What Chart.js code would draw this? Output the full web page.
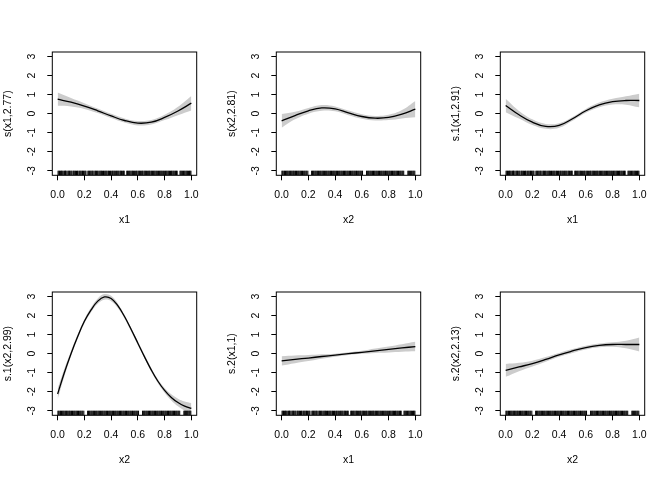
<!DOCTYPE html>
<html>
<head>
<meta charset="utf-8">
<script src="https://cdn.jsdelivr.net/npm/chart.js@4.4.1/dist/chart.umd.min.js"></script>
<style>
  body { margin: 0; background: #fff; }
  .panel { position: absolute; width: 224px; height: 240px; }
</style>
</head>
<body>
<script>
// grids the smooths were read at
const xGrid = [0, 0.1, 0.2, 0.3, 0.4, 0.5, 0.6, 0.7, 0.8, 0.9, 1.0];
const xFine = [0, 0.05, 0.1, 0.15, 0.2, 0.25, 0.3, 0.35, 0.4, 0.45, 0.5,
               0.55, 0.6, 0.65, 0.7, 0.75, 0.8, 0.85, 0.9, 0.95, 1.0];

// fitted smooths and half widths of the grey bands
const fit1 = [0.76, 0.6, 0.4, 0.15, -0.12, -0.36, -0.5, -0.45, -0.2, 0.14, 0.55];
const se1  = [0.35, 0.22, 0.15, 0.12, 0.11, 0.11, 0.12, 0.12, 0.14, 0.22, 0.38];
const fit2 = [-0.38, -0.1, 0.15, 0.3, 0.25, 0.04, -0.15, -0.24, -0.2, -0.03, 0.24];
const se2  = [0.36, 0.2, 0.15, 0.15, 0.13, 0.12, 0.12, 0.12, 0.14, 0.22, 0.43];
const fit3 = [0.43, -0.06, -0.45, -0.67, -0.62, -0.27, 0.15, 0.46, 0.63, 0.69, 0.69];
const se3  = [0.35, 0.2, 0.15, 0.13, 0.12, 0.1, 0.1, 0.12, 0.15, 0.22, 0.36];
const fit4 = [-2.12, -1.0, 0.0, 0.9, 1.7, 2.3, 2.76, 2.98, 2.9, 2.52, 1.95,
              1.27, 0.55, -0.17, -0.85, -1.45, -1.93, -2.3, -2.57, -2.76, -2.88];
const se4  = [0.28, 0.2, 0.14, 0.12, 0.11, 0.12, 0.14, 0.15, 0.14, 0.12, 0.1,
              0.1, 0.1, 0.1, 0.1, 0.11, 0.13, 0.16, 0.2, 0.24, 0.28];
const fit5 = [-0.38, -0.3, -0.23, -0.15, -0.08, 0.0, 0.07, 0.15, 0.22, 0.3, 0.37];
const se5  = [0.24, 0.2, 0.155, 0.115, 0.08, 0.07, 0.08, 0.115, 0.16, 0.2, 0.25];
const fit6 = [-0.88, -0.7, -0.52, -0.3, -0.06, 0.14, 0.32, 0.43, 0.48, 0.48, 0.48];
const se6  = [0.34, 0.22, 0.15, 0.12, 0.1, 0.1, 0.1, 0.1, 0.12, 0.2, 0.37];

// rug positions of the covariates
const rugX1 = [0.003, 0.009, 0.014, 0.022, 0.027, 0.031, 0.038, 0.046, 0.052, 0.058, 0.061, 0.069,
  0.077, 0.083, 0.088, 0.094, 0.101, 0.107, 0.116, 0.121, 0.128, 0.133, 0.141, 0.149, 0.153, 0.162,
  0.168, 0.174, 0.181, 0.186, 0.193, 0.199, 0.206, 0.212, 0.226, 0.232, 0.239, 0.244, 0.251, 0.258,
  0.263, 0.271, 0.279, 0.284, 0.291, 0.297, 0.303, 0.311, 0.318, 0.324, 0.329, 0.336, 0.343, 0.349,
  0.356, 0.362, 0.368, 0.376, 0.381, 0.388, 0.395, 0.401, 0.409, 0.414, 0.421, 0.427, 0.434, 0.441,
  0.446, 0.453, 0.459, 0.467, 0.472, 0.478, 0.486, 0.492, 0.498, 0.517, 0.523, 0.529, 0.536, 0.542,
  0.549, 0.556, 0.561, 0.568, 0.574, 0.581, 0.588, 0.593, 0.601, 0.607, 0.613, 0.619, 0.626, 0.633,
  0.638, 0.646, 0.652, 0.658, 0.664, 0.671, 0.678, 0.684, 0.689, 0.697, 0.703, 0.709, 0.716, 0.722,
  0.728, 0.735, 0.741, 0.748, 0.754, 0.761, 0.767, 0.773, 0.779, 0.786, 0.793, 0.798, 0.806, 0.812,
  0.818, 0.825, 0.831, 0.837, 0.844, 0.851, 0.856, 0.863, 0.869, 0.876, 0.882, 0.889, 0.894, 0.915,
  0.921, 0.928, 0.933, 0.941, 0.947, 0.953, 0.96, 0.966, 0.972, 0.979, 0.986, 0.991, 0.997];
const rugX2 = [0.002, 0.008, 0.016, 0.021, 0.029, 0.035, 0.041, 0.047, 0.054, 0.06, 0.067, 0.072,
  0.079, 0.086, 0.091, 0.098, 0.104, 0.111, 0.117, 0.124, 0.13, 0.137, 0.143, 0.149, 0.156, 0.162,
  0.169, 0.175, 0.182, 0.188, 0.196, 0.224, 0.231, 0.237, 0.243, 0.25, 0.256, 0.263, 0.269, 0.276,
  0.282, 0.289, 0.295, 0.302, 0.308, 0.314, 0.321, 0.327, 0.334, 0.34, 0.347, 0.353, 0.36, 0.366,
  0.373, 0.379, 0.386, 0.392, 0.398, 0.405, 0.411, 0.418, 0.424, 0.431, 0.437, 0.444, 0.45, 0.457,
  0.463, 0.47, 0.476, 0.482, 0.489, 0.495, 0.502, 0.508, 0.515, 0.521, 0.528, 0.534, 0.541, 0.547,
  0.554, 0.56, 0.566, 0.573, 0.579, 0.586, 0.592, 0.599, 0.605, 0.635, 0.641, 0.648, 0.654, 0.661,
  0.667, 0.674, 0.68, 0.687, 0.693, 0.699, 0.706, 0.712, 0.719, 0.725, 0.732, 0.738, 0.745, 0.751,
  0.758, 0.764, 0.771, 0.777, 0.783, 0.79, 0.796, 0.803, 0.809, 0.816, 0.822, 0.829, 0.835, 0.842,
  0.848, 0.855, 0.861, 0.867, 0.874, 0.88, 0.887, 0.893, 0.9, 0.906, 0.913, 0.944, 0.95, 0.957,
  0.963, 0.97, 0.976, 0.983, 0.989, 0.996];

const xTicks = [0, 0.2, 0.4, 0.6, 0.8, 1.0];
const yTicks = [-3, -2, -1, 0, 1, 2, 3];
const yLabels = ['s(x1,2.77)', 's(x2,2.81)', 's.1(x1,2.91)', 's.1(x2,2.99)', 's.2(x1,1)', 's.2(x2,2.13)'];
const xLabels = ['x1', 'x2', 'x1', 'x2', 'x1', 'x2'];

const grids = [xGrid, xGrid, xGrid, xFine, xGrid, xGrid];
const fits = [fit1, fit2, fit3, fit4, fit5, fit6];
const ses = [se1, se2, se3, se4, se5, se6];
const rugs = [rugX1, rugX2, rugX1, rugX2, rugX1, rugX2];

const font = { family: '"Liberation Sans", Arial, sans-serif', size: 10.5 };
const band = '#cccccc';
const rugY = -3.12;

// box round the plot region, like R's box()
const boxPlugin = {
  id: 'box',
  afterDatasetsDraw(chart) {
    const a = chart.chartArea, ctx = chart.ctx;
    ctx.save();
    ctx.strokeStyle = '#000';
    ctx.lineWidth = 1;
    ctx.strokeRect(a.left, a.top, a.right - a.left, a.bottom - a.top);
    ctx.restore();
  }
};

const tickGrid = { display: true, drawOnChartArea: false, drawTicks: true, tickLength: 5, color: '#000', lineWidth: 1 };

for (let i = 0; i < 6; i++) {
  const div = document.createElement('div');
  div.className = 'panel';
  div.style.left = (i % 3) * 224 + 'px';
  div.style.top = Math.floor(i / 3) * 240 + 'px';
  const cv = document.createElement('canvas');
  cv.width = 224; cv.height = 240;
  div.appendChild(cv);
  document.body.appendChild(div);

  const xs = grids[i];
  const fitPts = xs.map((x, j) => ({ x: x, y: fits[i][j] }));
  const upper = xs.map((x, j) => ({ x: x, y: fits[i][j] + ses[i][j] }));
  const lower = xs.map((x, j) => ({ x: x, y: fits[i][j] - ses[i][j] }));
  const rugPts = rugs[i].map(x => ({ x: x, y: rugY }));

  new Chart(cv, {
    type: 'line',
    data: {
      datasets: [
        { data: upper, order: 3, fill: '+1', backgroundColor: band, borderColor: 'rgba(0,0,0,0)', borderWidth: 0, pointRadius: 0, tension: 0.4 },
        { data: lower, order: 3, fill: false, borderColor: 'rgba(0,0,0,0)', borderWidth: 0, pointRadius: 0, tension: 0.4 },
        { data: fitPts, order: 1, fill: false, borderColor: '#000', borderWidth: 1.3, pointRadius: 0, tension: 0.4 },
        { type: 'scatter', data: rugPts, order: 0, showLine: false, pointStyle: 'line', pointRotation: 90,
          pointRadius: 2.3, pointBorderColor: '#000', pointBorderWidth: 1 }
      ]
    },
    options: {
      responsive: false,
      animation: false,
      layout: { padding: { left: 0, right: 27.3, top: 52, bottom: 0 } },
      plugins: { legend: { display: false }, tooltip: { enabled: false } },
      scales: {
        x: {
          type: 'linear', min: -0.04, max: 1.04,
          afterBuildTicks: s => { s.ticks = xTicks.map(v => ({ value: v })); },
          afterFit: s => { s.height = 64.7; },
          grid: tickGrid,
          border: { display: false },
          ticks: { color: '#000', font: font, padding: 8.4, maxRotation: 0, autoSkip: false,
                   callback: v => v.toFixed(1) },
          title: { display: true, text: xLabels[i], color: '#000', font: font, padding: { top: 0, bottom: 13.7 } }
        },
        y: {
          type: 'linear', min: -3.24, max: 3.24,
          afterBuildTicks: s => { s.ticks = yTicks.map(v => ({ value: v })); },
          afterFit: s => { s.width = 52.3; },
          grid: tickGrid,
          border: { display: false },
          ticks: { color: '#000', font: font, padding: 10.9, minRotation: 90, maxRotation: 90,
                   crossAlign: 'center', autoSkip: false },
          title: { display: true, text: yLabels[i], color: '#000', font: font, padding: { top: 1.7, bottom: 0 } }
        }
      }
    },
    plugins: [boxPlugin]
  });
}
</script>
</body>
</html>
